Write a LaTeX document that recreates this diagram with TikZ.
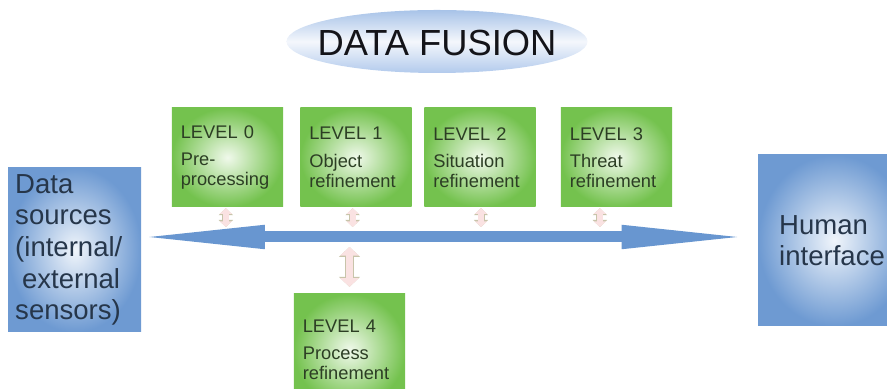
\documentclass[tikz,border=0pt]{standalone}
\usepackage{fontspec}
\setmainfont{Liberation Sans}
\usetikzlibrary{arrows.meta}

\definecolor{lvlgreen}{RGB}{116,194,78}
\definecolor{lvlglow}{RGB}{240,249,235}
\definecolor{lvltext}{RGB}{44,62,36}
\definecolor{sideblue}{RGB}{110,154,210}
\definecolor{sideglow}{RGB}{240,245,251}
\definecolor{sidetext}{RGB}{38,54,74}
\definecolor{busblue}{RGB}{104,150,208}
\definecolor{titletop}{RGB}{168,195,232}
\definecolor{titlemid}{RGB}{244,247,252}
\definecolor{titlebot}{RGB}{178,202,236}
\definecolor{linkfill}{RGB}{250,226,226}
\definecolor{linkedge}{RGB}{200,196,170}

\begin{document}
\begin{tikzpicture}[
    level/.style={rectangle, inner color=lvlglow, outer color=lvlgreen,
        minimum width=3.3cm, minimum height=2.97cm, text width=2.8cm,
        inner xsep=0.27cm, align=left, text=lvltext,
        font=\fontsize{15.6}{17}\selectfont},
    side/.style={rectangle, inner color=sideglow, outer color=sideblue,
        anchor=west, align=left, text=sidetext,
        font=\fontsize{23.5}{27}\selectfont},
    bus/.style={draw=busblue, line width=0.33cm,
        {Triangle[length=4cm,width=0.63cm]}-{Triangle[length=4cm,width=0.63cm]}},
    link/.style={draw=linkfill, line width=0.17cm,
        {Triangle[length=0.17cm,width=0.36cm]}-{Triangle[length=0.17cm,width=0.36cm]},
        preaction={draw=linkedge, line width=0.21cm,
        {Triangle[length=0.21cm,width=0.42cm]}-{Triangle[length=0.21cm,width=0.42cm]}}},
    biglink/.style={draw=linkfill, line width=0.22cm,
        {Triangle[length=0.26cm,width=0.56cm]}-{Triangle[length=0.26cm,width=0.56cm]},
        preaction={draw=linkedge, line width=0.26cm,
        {Triangle[length=0.3cm,width=0.62cm]}-{Triangle[length=0.3cm,width=0.62cm]}}}
]

    \useasboundingbox (0,0) rectangle (26.61,11.67);

    % Title on a shaded ellipse
    \coordinate (fusion) at (13.11,10.425);
    \shade[top color=titletop, bottom color=titlebot, middle color=titlemid]
        (fusion) ellipse [x radius=4.515cm, y radius=0.945cm];
    \node[text={rgb,255:red,20;green,20;blue,25}, font=\fontsize{31}{34}\selectfont]
        (title) at ([yshift=-0.05cm]fusion) {DATA FUSION};

    % Sources and user side
    \node[side, minimum width=3.99cm, minimum height=4.92cm, text width=3.57cm,
          inner xsep=0.21cm] (src) at (0.24,4.17)
        {Data\\sources\\(internal/\\\hspace*{0.25em}external\\sensors)};
    \node[side, minimum height=5.13cm, text width=3.3cm, inner xsep=0.63cm]
        (hmi) at (22.74,4.455) {Human\\interface\\[0.25cm]};

    % Common bus between both sides
    \coordinate (bus) at (13,4.56);
    \draw[bus, shorten <=-0.3cm, shorten >=0.09cm] (src.east |- bus) -- (hmi.west |- bus);

    % Levels 0-3 above the bus
    \def\levely{6.945}
    \foreach \i/\xpos/\task in {
        0/6.825/{Pre-\\processing},
        1/10.68/{Object\\refinement},
        2/14.4/{Situation\\refinement},
        3/18.495/{Threat\\refinement}
    } {
        \node[level] (l\i) at (\xpos,\levely) {LEVEL \i\\[6.5pt]\task};
    }

    % Level 4 below the bus
    \node[level, minimum height=3.36cm] (l4) at (10.485,1.17)
        {LEVEL 4\\[6.5pt]Process\\refinement};

    % Exchange with the bus
    \foreach \i/\dx in {0/-0.05, 1/-0.1, 2/0.03, 3/-0.5} {
        \draw[link, shorten <=0.03cm, shorten >=0.3cm]
            ([xshift=\dx cm]l\i.south) -- ([xshift=\dx cm]l\i.south |- bus);
    }
    \draw[biglink, shorten <=0.21cm, shorten >=0.3cm] (l4.north) -- (l4.north |- bus);

\end{tikzpicture}
\end{document}
